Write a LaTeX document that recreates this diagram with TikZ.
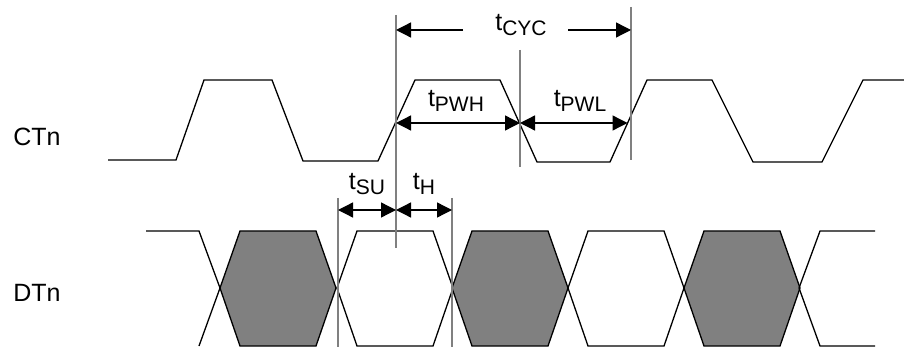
\documentclass[tikz,border=0pt]{standalone}
\usepackage{fontspec}
\setmainfont{Liberation Sans}
\usetikzlibrary{arrows.meta}
\newcommand\tlab[1]{t\raisebox{-4.5pt}{\fontsize{21}{22}\selectfont #1}}
\begin{document}
\begin{tikzpicture}[x=1pt,y=-1pt,
  wave/.style={black,line width=1.3pt,line join=miter},
  guide/.style={draw=black!50,line width=1.8pt},
  dim/.style={black,line width=1.3pt,-{Triangle[length=15pt,width=15pt]}},
  ddim/.style={black,line width=1.3pt,{Triangle[length=15pt,width=15pt]}-{Triangle[length=15pt,width=15pt]}},
  lab/.style={font=\fontsize{25}{27}\selectfont,inner sep=0pt},
  hexg/.style={fill=black!50,draw=black,line width=1.3pt,line join=miter},
  hexw/.style={draw=black,line width=1.3pt,line join=miter}]
\useasboundingbox (0,0) rectangle (904,347);
% signal names
\node[lab] (ct) at (37,137) {CTn};
\node[lab] (dt) at (37,293) {DTn};
% CTn waveform
\draw[wave] (108,160) -- (176,160) -- (204,80) -- (272,80) -- (303,161) -- (378,161)
  -- (415,80) -- (500,80) -- (537,162) -- (610,162) -- (647,80) -- (712,80)
  -- (753,162) -- (822,162) -- (863,80) -- (904,80);
% DTn waveform
\foreach \c/\s in {220/hexg,337/hexw,452/hexg,568/hexw,684/hexg}{
  \pgfmathsetmacro\d{\c+116}
  \draw[\s] (\c,288) -- (\c+20,231) -- (\d-20,231) -- (\d,288) -- (\d-20,346) -- (\c+20,346) -- cycle;
}
\draw[wave] (146,231) -- (199,231) -- (220,288) -- (199,346);
\draw[wave] (875,231) -- (820,231) -- (799,288) -- (820,346) -- (875,346);
% guide lines
\coordinate (g1t) at (396,15);  \coordinate (g1b) at (396,248);
\coordinate (g2t) at (520,50);  \coordinate (g2b) at (520,167);
\coordinate (g3t) at (631,7);   \coordinate (g3b) at (631,160);
\coordinate (g4t) at (338,198); \coordinate (g4b) at (338,347);
\coordinate (g5t) at (452,198); \coordinate (g5b) at (452,347);
\draw[guide] (g1t) -- (g1b);
\draw[guide] (g2t) -- (g2b);
\draw[guide] (g3t) -- (g3b);
\draw[guide] (g4t) -- (g4b);
\draw[guide] (g5t) -- (g5b);
% dimension arrows
\coordinate (cycL) at (396,30); \coordinate (cycLs) at (463,30);
\coordinate (cycR) at (631,30); \coordinate (cycRs) at (568,30);
\draw[dim] (cycLs) -- (cycL);
\draw[dim] (cycRs) -- (cycR);
\node[lab] (tcyc) at (521,25) {\tlab{CYC}};
\coordinate (pwA) at (396,123); \coordinate (pwB) at (520,123); \coordinate (pwC) at (627.5,123);
\draw[ddim] (pwA) -- (pwB);
\draw[ddim] (pwB) -- (pwC);
\node[lab] (tpwh) at (456,101) {\tlab{PWH}};
\node[lab] (tpwl) at (580,101) {\tlab{PWL}};
\coordinate (suA) at (338,210); \coordinate (suB) at (396,210); \coordinate (suC) at (452,210);
\draw[ddim] (suA) -- (suB);
\draw[ddim] (suB) -- (suC);
\node[lab] (tsu) at (367,184) {\tlab{SU}};
\node[lab] (th) at (424,184) {\tlab{H}};
\end{tikzpicture}
\end{document}
